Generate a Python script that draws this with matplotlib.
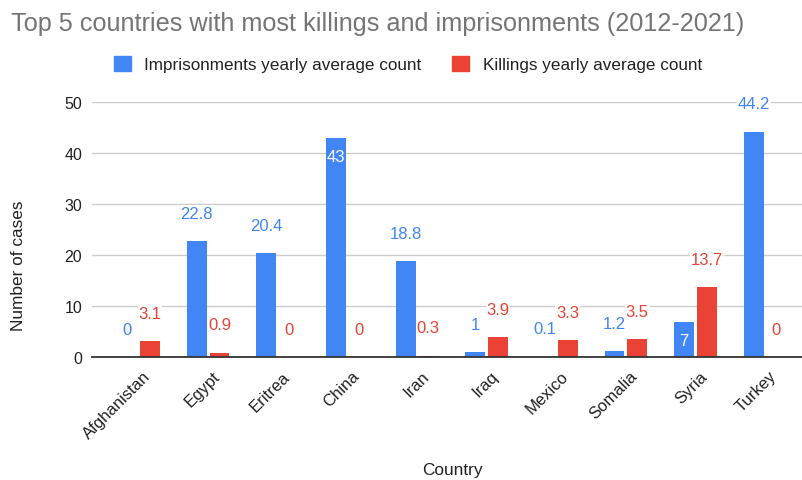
import matplotlib
matplotlib.use("Agg")
import matplotlib.pyplot as plt
import matplotlib.transforms as mtransforms
import numpy as np

countries = ["Afghanistan", "Egypt", "Eritrea", "China", "Iran", "Iraq",
             "Mexico", "Somalia", "Syria", "Turkey"]
imprisonments = [0, 22.8, 20.4, 43, 18.8, 1, 0.1, 1.2, 7, 44.2]
killings = [3.1, 0.9, 0, 0, 0.3, 3.9, 3.3, 3.5, 13.7, 0]
imp_labels = ["0", "22.8", "20.4", "43", "18.8", "1", "0.1", "1.2", "7", "44.2"]
kill_labels = ["3.1", "0.9", "0", "0", "0.3", "3.9", "3.3", "3.5", "13.7", "0"]
series_names = ["Imprisonments yearly average count", "Killings yearly average count"]
yticks = [0, 10, 20, 30, 40, 50]

BLUE = "#4285F4"
RED = "#EA4335"

plt.rcParams['font.family'] = ['Liberation Sans', 'DejaVu Sans']

fig = plt.figure(figsize=(8.02, 4.81), dpi=100)
ax = fig.add_axes([92/802, 1-358.3/481, (802-92)/802, (358.3-103.3)/481])

x = np.arange(len(countries))
w = 0.285
off = 0.163
b1 = ax.bar(x - off, imprisonments, w, color=BLUE, zorder=3)
b2 = ax.bar(x + off, killings, w, color=RED, zorder=3)

ax.set_xlim(-0.668, 9.53)
ax.set_ylim(0, 50)
ax.set_yticks(yticks)
ax.yaxis.grid(True, color="#cccccc", lw=1, zorder=0)
ax.set_axisbelow(True)
for s in ["left", "right", "top"]:
    ax.spines[s].set_visible(False)
ax.spines["bottom"].set_color("#333333")
ax.spines["bottom"].set_linewidth(1.3)
ax.spines["bottom"].set_zorder(4)
ax.tick_params(axis="both", length=0, colors="#222222", labelsize=11.5)
ax.tick_params(axis="y", pad=7)

ax.set_xticks(x)
ax.set_xticklabels(countries, rotation=45, ha="right", rotation_mode="anchor",
                   fontsize=12)
shift = mtransforms.ScaledTranslation(4/100, -6/100, fig.dpi_scale_trans)
for lbl in ax.get_xticklabels():
    lbl.set_transform(lbl.get_transform() + shift)

inside = {"China", "Syria"}
for i, (bar, lab) in enumerate(zip(b1, imp_labels)):
    h = bar.get_height()
    cx = bar.get_x() + bar.get_width()/2
    if countries[i] in inside:
        ax.annotate(lab, (cx, h), xytext=(0, -19*0.72), textcoords="offset points",
                    ha="center", va="center", color="white", fontsize=12, zorder=5)
    else:
        ax.annotate(lab, (cx, h), xytext=(0, 28*0.72), textcoords="offset points",
                    ha="center", va="center", color=BLUE, fontsize=12, zorder=5,
                    bbox=dict(boxstyle="square,pad=0.05", fc="white", ec="none"))
for i, (bar, lab) in enumerate(zip(b2, kill_labels)):
    h = bar.get_height()
    cx = bar.get_x() + bar.get_width()/2
    ax.annotate(lab, (cx, h), xytext=(0, 28*0.72), textcoords="offset points",
                ha="center", va="center", color=RED, fontsize=12, zorder=5,
                bbox=dict(boxstyle="square,pad=0.05", fc="white", ec="none"))

fig.text(19/802, 1-266/481, "Number of cases", rotation=90, ha="center", va="center",
         fontsize=12.4, color="#222222")
fig.text(452/802, 1-471/481, "Country", ha="center", va="center",
         fontsize=12.4, color="#222222")

fig.text(11/802, 1-24/481, "Top 5 countries with most killings and imprisonments (2012-2021)",
         ha="left", va="center", fontsize=18.2, color="#757575")

handles = [plt.Rectangle((0, 0), 1, 1, color=BLUE), plt.Rectangle((0, 0), 1, 1, color=RED)]
fig.legend(handles, series_names, loc="center", bbox_to_anchor=(408/802, 1-65/481),
           ncol=2, frameon=False, fontsize=12.3, handlelength=1.0, handleheight=1.0,
           handletextpad=0.8, columnspacing=1.8, labelcolor="#222222")

fig.savefig("out.png", dpi=100)
